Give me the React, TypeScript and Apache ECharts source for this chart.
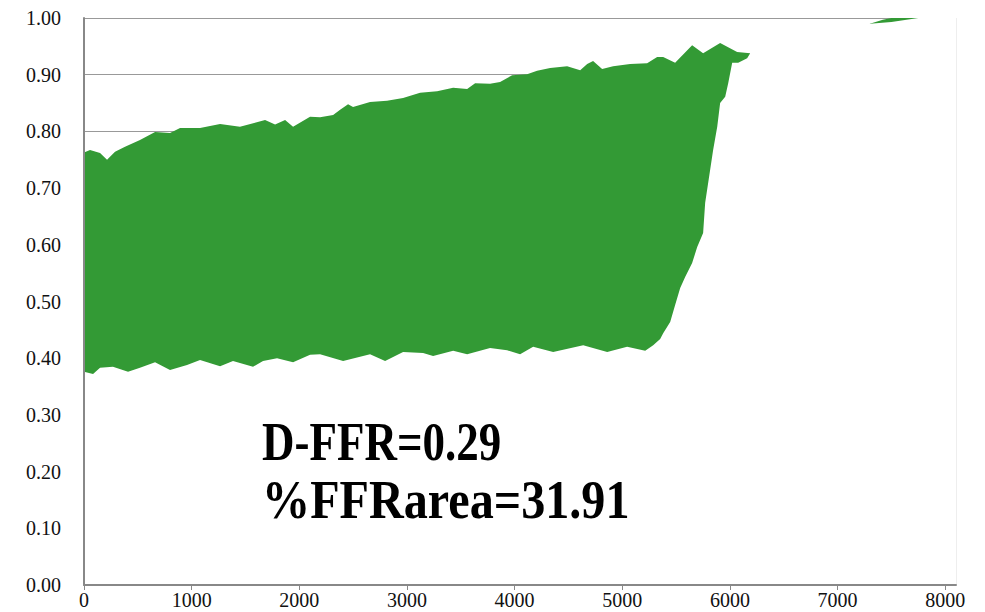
import React, { useEffect, useRef } from "react";
import * as echarts from "echarts";

// Sample index on the horizontal axis
const xTicks = [0, 1000, 2000, 3000, 4000, 5000, 6000, 7000, 8000];
const yTicks = [0, 0.1, 0.2, 0.3, 0.4, 0.5, 0.6, 0.7, 0.8, 0.9, 1.0];

// Upper envelope of the pressure-ratio trace (x = sample, y = ratio)
const upperX = [
  0, 56, 149, 214, 288, 381, 520, 660, 799, 892, 1078, 1264, 1449, 1682, 1775,
  1868, 1942, 2100, 2193, 2314, 2379, 2453, 2499, 2657, 2815, 2964, 3122, 3280,
  3429, 3559, 3633, 3772, 3865, 3977, 4116, 4209, 4330, 4488, 4609, 4674, 4729,
  4813, 4915, 5073, 5231, 5324, 5380, 5491, 5649, 5751, 5909, 6067, 6188,
];
const upperY = [
  0.763, 0.767, 0.762, 0.75, 0.764, 0.773, 0.785, 0.799, 0.797, 0.806, 0.806,
  0.813, 0.808, 0.82, 0.812, 0.82, 0.808, 0.826, 0.825, 0.829, 0.838, 0.848,
  0.843, 0.852, 0.854, 0.859, 0.868, 0.871, 0.877, 0.875, 0.885, 0.884, 0.887,
  0.899, 0.901, 0.907, 0.912, 0.915, 0.908, 0.919, 0.924, 0.91, 0.915, 0.919,
  0.92, 0.931, 0.931, 0.921, 0.952, 0.938, 0.956, 0.94, 0.938,
];

// Lower envelope of the pressure-ratio trace
const lowerX = [
  0, 84, 149, 269, 409, 520, 660, 799, 957, 1078, 1264, 1384, 1570, 1663, 1793,
  1942, 2100, 2193, 2407, 2657, 2797, 2964, 3150, 3243, 3429, 3559, 3772, 3930,
  4051, 4172, 4358, 4637, 4860, 5045, 5213, 5287, 5352, 5380, 5445, 5491, 5538,
  5584, 5649, 5696, 5751, 5770, 5816, 5844, 5882, 5909, 5956, 5984, 6021, 6077,
  6160, 6188,
];
const lowerY = [
  0.376, 0.372, 0.383, 0.385, 0.376, 0.383, 0.393, 0.379, 0.388, 0.397, 0.386,
  0.395, 0.385, 0.395, 0.4, 0.393, 0.406, 0.407, 0.395, 0.407, 0.395, 0.411,
  0.409, 0.404, 0.413, 0.407, 0.418, 0.414, 0.407, 0.42, 0.411, 0.423, 0.411,
  0.42, 0.413, 0.423, 0.434, 0.444, 0.464, 0.494, 0.524, 0.543, 0.568, 0.596,
  0.621, 0.674, 0.732, 0.767, 0.808, 0.85, 0.861, 0.885, 0.921, 0.921, 0.929,
  0.938,
];

// Trace after pull-back, close to 1.0
const tailUpperX = [7300, 7420, 7500, 8100];
const tailUpperY = [0.99, 0.997, 1.0, 1.0];
const tailLowerX = [6195, 7300, 7500, 7750, 8100];
const tailLowerY = [0.988, 0.99, 0.993, 1.0, 1.0];

const labelLines = ["D-FFR=0.29", "%FFRarea=31.91"];
const labelStretch = [1.0, 1.07];

const GREEN = "#339a35";
const SERIF = "Liberation Serif, Times New Roman, serif";
const AXIS_GREY = "#888888";

const pairs = (xs: number[], ys: number[]) => xs.map((x, i) => [x, ys[i]]);

export default function App() {
  const ref = useRef<HTMLDivElement>(null);

  useEffect(() => {
    if (!ref.current) return;
    const chart = echarts.init(ref.current, undefined, { renderer: "svg" });

    const areaSeries = (name: string, data: number[][], color: string) => ({
      name,
      type: "line",
      xAxisIndex: 0,
      yAxisIndex: 0,
      data,
      showSymbol: false,
      symbol: "none",
      lineStyle: { width: 0, color },
      itemStyle: { color },
      areaStyle: { color, opacity: 1, origin: "start" },
      silent: true,
      z: 2,
    });

    const gridBox = { left: 84, right: 29, top: 18, bottom: 27, containLabel: false };
    const xBase = { type: "value", min: 0, max: 8100, interval: 1000 };
    const yBase = { type: "value", min: 0, max: 1, interval: 0.1 };
    const hidden = {
      axisLine: { show: false },
      axisTick: { show: false },
      axisLabel: { show: false },
    };

    chart.setOption({
      animation: false,
      backgroundColor: "#ffffff",
      // grid 0 carries the data and the gridlines, grid 1 the axis frame drawn on top
      grid: [gridBox, gridBox],
      xAxis: [
        { ...xBase, gridIndex: 0, z: 0, ...hidden, splitLine: { show: false } },
        {
          ...xBase,
          gridIndex: 1,
          z: 10,
          axisLine: { show: true, onZero: false, lineStyle: { color: AXIS_GREY, width: 2 } },
          axisTick: {
            show: true,
            length: 5,
            customValues: xTicks,
            lineStyle: { color: AXIS_GREY, width: 1 },
          },
          axisLabel: {
            customValues: xTicks,
            color: "#111111",
            fontFamily: SERIF,
            fontSize: 20,
            margin: 5,
            formatter: (v: number) => String(v),
          },
          splitLine: { show: false },
        },
      ],
      yAxis: [
        {
          ...yBase,
          gridIndex: 0,
          z: 0,
          ...hidden,
          splitLine: { show: true, lineStyle: { color: "#999999", width: 1 } },
        },
        {
          ...yBase,
          gridIndex: 1,
          z: 10,
          axisLine: { show: true, onZero: false, lineStyle: { color: AXIS_GREY, width: 2 } },
          axisTick: { show: false },
          axisLabel: {
            customValues: yTicks,
            color: "#111111",
            fontFamily: SERIF,
            fontSize: 20,
            margin: 23,
            formatter: (v: number) => v.toFixed(2),
          },
          splitLine: { show: false },
        },
      ],
      series: [
        areaSeries("upper", pairs(upperX, upperY), GREEN),
        areaSeries("upperTail", pairs(tailUpperX, tailUpperY), GREEN),
        areaSeries("lower", pairs(lowerX, lowerY).concat(pairs(tailLowerX, tailLowerY)), "#ffffff"),
      ],
      graphic: [
        {
          type: "line",
          shape: { x1: 956.5, y1: 18, x2: 956.5, y2: 585 },
          style: { stroke: "#eeeeee", lineWidth: 1 },
          silent: true,
        },
        ...labelLines.map((t, i) => ({
          type: "text",
          x: 262,
          y: 441 + i * 58,
          scaleX: labelStretch[i],
          scaleY: 1.22,
          style: {
            text: t,
            fill: "#000000",
            fontFamily: SERIF,
            fontSize: 45,
            fontWeight: "bold",
            align: "left",
            verticalAlign: "middle",
          },
          z: 20,
        })),
      ],
    });

    return () => chart.dispose();
  }, []);

  return (
    <div
      ref={ref}
      style={{ position: "fixed", left: 0, top: 0, width: 985, height: 612 }}
    />
  );
}
